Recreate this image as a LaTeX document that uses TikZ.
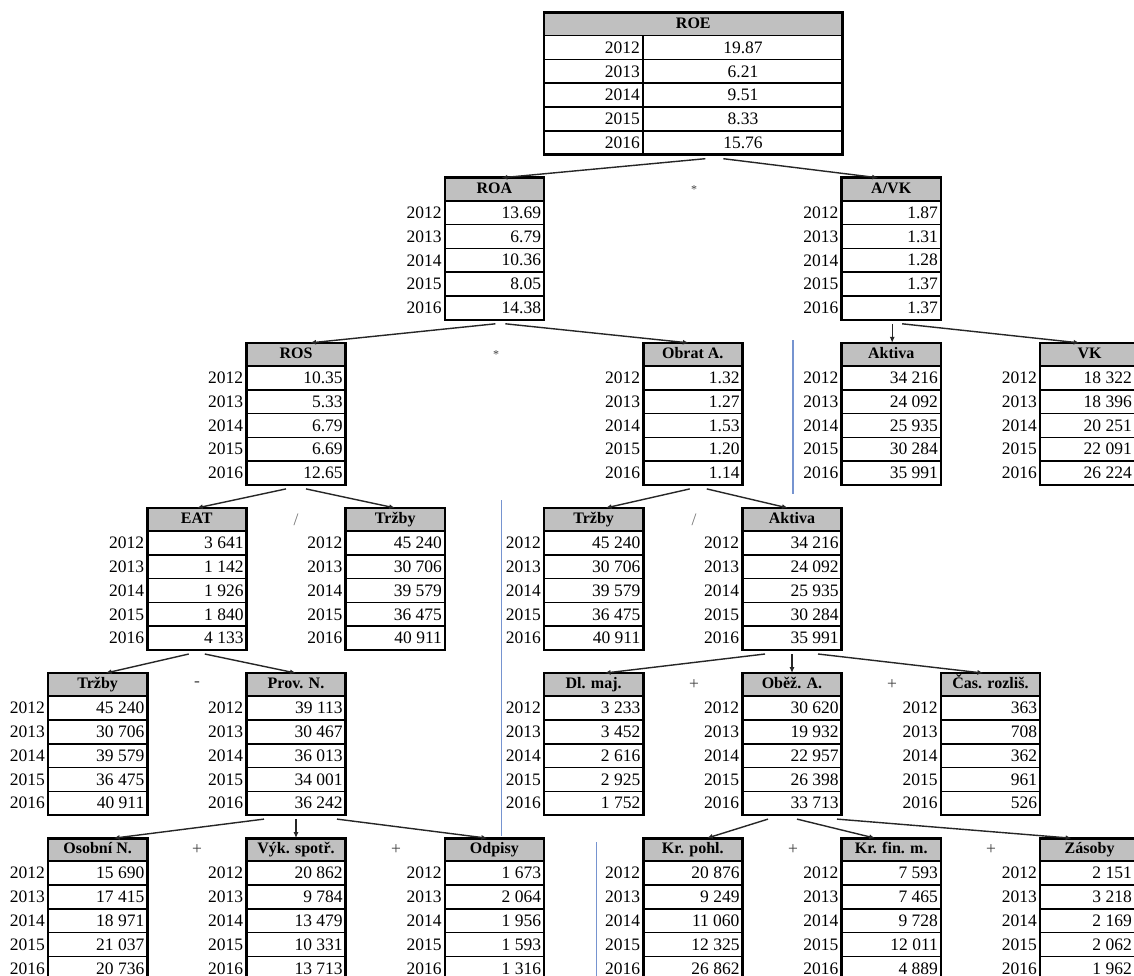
\documentclass[tikz,border=0pt]{standalone}
\usepackage{fontspec}
\setmainfont{Liberation Serif}
\usepackage{xcolor}
\usetikzlibrary{arrows.meta}

\definecolor{hdrgray}{RGB}{192,192,192}
\definecolor{guideblue}{RGB}{118,148,208}

\tikzset{
  tbl/.style={draw, line width=2.6pt, minimum width=99.2pt, minimum height=142pt, inner sep=0pt, outer sep=0pt},
  hdr/.style={font=\fontsize{16}{18}\selectfont\bfseries, inner sep=0pt, text height=11pt, text depth=3pt},
  yrlbl/.style={anchor=east, inner sep=0pt},
  val/.style={anchor=east, inner sep=0pt},
  rowline/.style={line width=1.6pt},
  conn/.style={line width=1.4pt, black!85, -{Latex[length=6pt,width=5pt]}},
  op/.style={text=black!75, inner sep=0pt},
  guide/.style={draw=guideblue, line width=1.4pt},
}

% one ratio box: name, left, top, header, values 2012..2016
\newcommand{\ratiotable}[9]{%
  \fill[hdrgray] (#2,#3) rectangle ++(99.2,23);
  \foreach \v [count=\i] in {#5,#6,#7,#8,#9} {
    \draw[rowline] (#2,#3+23.8*\i-0.8) -- ++(99.2,0);
    \node[yrlbl] (#1-y\i) at (#2-3,#3+23.8*\i+11.1) {\the\numexpr2011+\i\relax};
    \node[val] (#1-v\i) at ({min(#2+96.5,1132)},#3+23.8*\i+11.1) {\v};
  }
  \node[tbl, anchor=north west] (#1) at (#2,#3) {};
  \node[hdr] (#1-h) at ([yshift=-11.5pt]#1.north) {#4};
}

\begin{document}
\begin{tikzpicture}[x=1pt,y=-1pt,font=\fontsize{17.5}{20}\selectfont]
\path[use as bounding box] (0,0) rectangle (1134,976);
\fill[white] (0,0) rectangle (1134,976);
\clip (0,0) rectangle (1134,976);

% ROE, years inside the box
\fill[hdrgray] (544,12.7) rectangle (842.6,35.7);
\foreach \v [count=\i] in {19.87,6.21,9.51,8.33,15.76} {
  \draw[rowline] (544,12.7+23.8*\i-0.8) -- ++(298.6,0);
  \node[yrlbl] (roe-y\i) at (640,12.7+23.8*\i+11.1) {\the\numexpr2011+\i\relax};
  \node[inner sep=0pt] (roe-v\i) at (743,12.7+23.8*\i+11.1) {\v};
}
\draw[rowline] (643.2,35.7) -- (643.2,154.7);
\node[tbl, minimum width=298.6pt, anchor=north west] (roe) at (544,12.7) {};
\node[hdr] (roe-h) at ([yshift=-11.5pt]roe.north) {ROE};

% level 1
\ratiotable{roa}{444.8}{177.8}{ROA}{13.69}{6.79}{10.36}{8.05}{14.38}
\ratiotable{avk}{841.6}{177.8}{A/VK}{1.87}{1.31}{1.28}{1.37}{1.37}

% level 2
\ratiotable{ros}{246.4}{342.9}{ROS}{10.35}{5.33}{6.79}{6.69}{12.65}
\ratiotable{obrat}{643.2}{342.9}{Obrat A.}{1.32}{1.27}{1.53}{1.20}{1.14}
\ratiotable{aktA}{841.6}{342.9}{Aktiva}{34 216}{24 092}{25 935}{30 284}{35 991}
\ratiotable{vk}{1040}{342.9}{VK}{18 322}{18 396}{20 251}{22 091}{26 224}

% level 3
\ratiotable{eat}{147.2}{508}{EAT}{3 641}{1 142}{1 926}{1 840}{4 133}
\ratiotable{trzA}{345.6}{508}{Tržby}{45 240}{30 706}{39 579}{36 475}{40 911}
\ratiotable{trzB}{544}{508}{Tržby}{45 240}{30 706}{39 579}{36 475}{40 911}
\ratiotable{aktB}{742.4}{508}{Aktiva}{34 216}{24 092}{25 935}{30 284}{35 991}

% level 4
\ratiotable{trzC}{48}{673.1}{Tržby}{45 240}{30 706}{39 579}{36 475}{40 911}
\ratiotable{provn}{246.4}{673.1}{Prov. N.}{39 113}{30 467}{36 013}{34 001}{36 242}
\ratiotable{dlmaj}{544}{673.1}{Dl. maj.}{3 233}{3 452}{2 616}{2 925}{1 752}
\ratiotable{obez}{742.4}{673.1}{Oběž. A.}{30 620}{19 932}{22 957}{26 398}{33 713}
\ratiotable{casr}{940.8}{673.1}{Čas. rozliš.}{363}{708}{362}{961}{526}

% level 5
\ratiotable{osobn}{48}{838.2}{Osobní N.}{15 690}{17 415}{18 971}{21 037}{20 736}
\ratiotable{vyksp}{246.4}{838.2}{Výk. spotř.}{20 862}{9 784}{13 479}{10 331}{13 713}
\ratiotable{odpis}{444.8}{838.2}{Odpisy}{1 673}{2 064}{1 956}{1 593}{1 316}
\ratiotable{krpohl}{643.2}{838.2}{Kr. pohl.}{20 876}{9 249}{11 060}{12 325}{26 862}
\ratiotable{krfin}{841.6}{838.2}{Kr. fin. m.}{7 593}{7 465}{9 728}{12 011}{4 889}
\ratiotable{zasob}{1040}{838.2}{Zásoby}{2 151}{3 218}{2 169}{2 062}{1 962}

% operators between siblings
\node[op, font=\fontsize{12}{12}\selectfont] (opA) at (694,189.3) {*};
\node[op, font=\fontsize{12}{12}\selectfont] (opB) at (496,354.4) {*};
\node[op, text=black!55] (opC) at (296,519.5) {/};
\node[op, text=black!55] (opD) at (694,519.5) {/};
\node[op] (opE) at (197,684.6) {-};
\node[op] (opF) at (694,684.6) {+};
\node[op] (opG) at (892,684.6) {+};
\node[op] (opH) at (197,849.7) {+};
\node[op] (opI) at (396,849.7) {+};
\node[op] (opJ) at (793,849.7) {+};
\node[op] (opK) at (991,849.7) {+};

% separators
\draw[guide] (793,340) -- (793,494);
\draw[guide] (501.5,500) -- (501.5,836);
\draw[guide] (596.5,842) -- (596.5,976);

% decomposition arrows
\draw[conn] ([xshift=12pt,yshift=-4pt]roe.south) -- ([xshift=7pt]roa.north);
\draw[conn] ([xshift=30pt,yshift=-4pt]roe.south) -- ([xshift=-13pt]avk.north);

\draw[conn] ([xshift=1pt,yshift=-4pt]roa.south) -- ([xshift=14pt]ros.north);
\draw[conn] ([xshift=11pt,yshift=-4pt]roa.south) -- ([xshift=-4pt]obrat.north);
\draw[conn] ([xshift=1pt,yshift=-4pt]avk.south) -- ([xshift=1pt]aktA.north);
\draw[conn] ([xshift=11pt,yshift=-4pt]avk.south) -- ([xshift=-10pt]vk.north);

\draw[conn] ([xshift=-10pt,yshift=-4pt]ros.south) -- (eat.north);
\draw[conn] ([xshift=10pt,yshift=-4pt]ros.south) -- (trzA.north);
\draw[conn] ([xshift=-3pt,yshift=-4pt]obrat.south) -- ([xshift=12pt]trzB.north);
\draw[conn] ([xshift=14pt,yshift=-4pt]obrat.south) -- ([xshift=-4pt]aktB.north);

\draw[conn] ([xshift=-8pt,yshift=-4pt]eat.south) -- ([xshift=8pt]trzC.north);
\draw[conn] ([xshift=8pt,yshift=-4pt]eat.south) -- (provn.north);
\draw[conn] ([xshift=-27pt,yshift=-4pt]aktB.south) -- ([xshift=11pt]dlmaj.north);
\draw[conn] ([yshift=-4pt]aktB.south) -- (obez.north);
\draw[conn] ([xshift=26pt,yshift=-4pt]aktB.south) -- ([xshift=-7pt]casr.north);

\draw[conn] ([xshift=-32pt,yshift=-4pt]provn.south) -- ([xshift=16pt]osobn.north);
\draw[conn] ([yshift=-4pt]provn.south) -- (vyksp.north);
\draw[conn] ([xshift=41pt,yshift=-4pt]provn.south) -- ([xshift=-7pt]odpis.north);
\draw[conn] ([xshift=-24pt,yshift=-4pt]obez.south) -- ([xshift=14pt]krpohl.north);
\draw[conn] ([xshift=5pt,yshift=-4pt]obez.south) -- ([xshift=-16pt]krfin.north);
\draw[conn] ([xshift=45pt,yshift=-4pt]obez.south) -- ([xshift=-18pt]zasob.north);
\end{tikzpicture}
\end{document}
